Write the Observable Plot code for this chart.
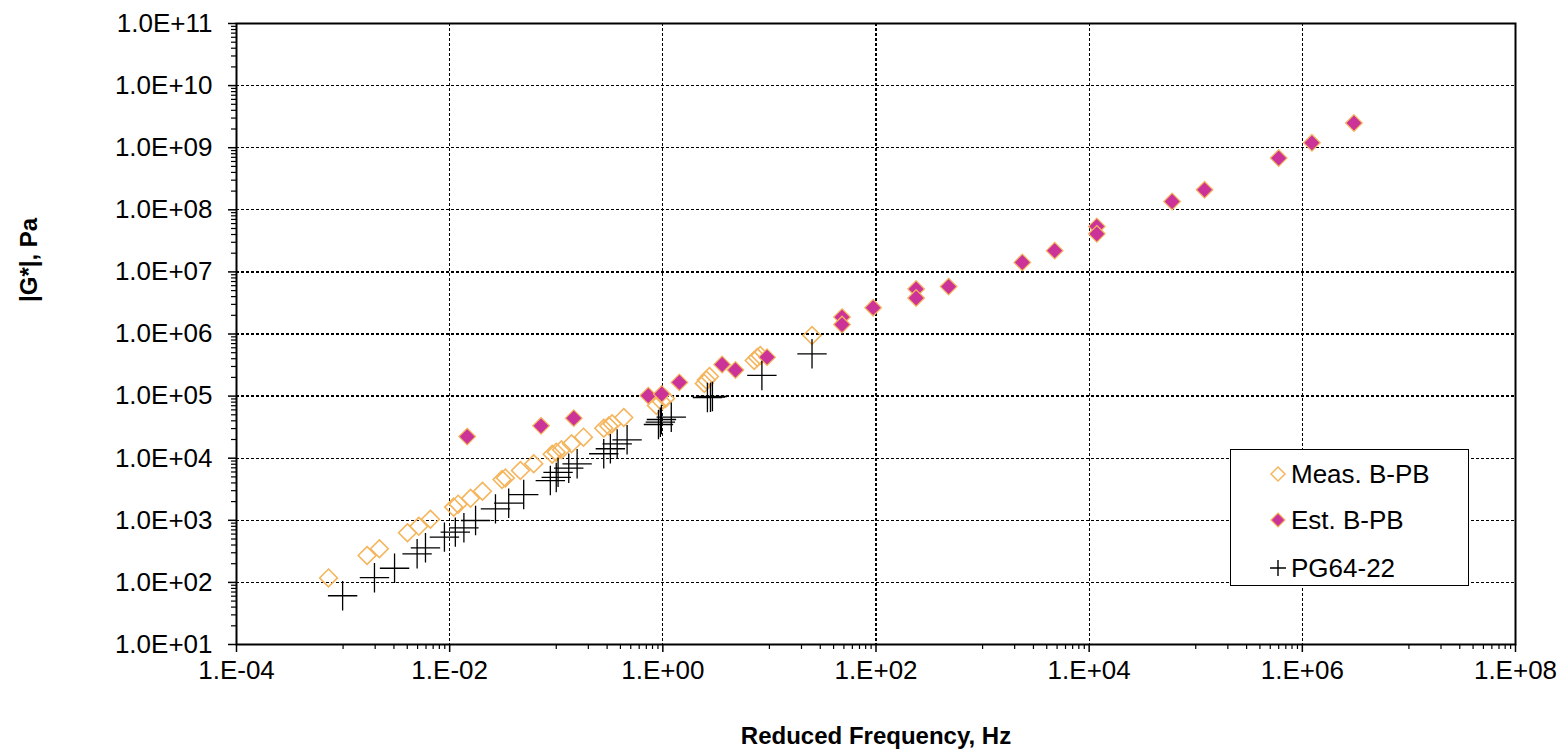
<!DOCTYPE html>
<html>
<head>
<meta charset="utf-8">
<script src="https://cdn.jsdelivr.net/npm/d3@7"></script>
<script src="https://cdn.jsdelivr.net/npm/@observablehq/plot@0.6"></script>
<style>
  html, body { margin: 0; padding: 0; background: #fff; }
  #wrap { position: relative; width: 1560px; height: 752px; font-family: "Liberation Sans", Arial, sans-serif; }
  #legend { position: absolute; left: 1230px; top: 449px; width: 237px; height: 135px; border: 1.5px solid #000; background: #fff; }
  .row { position: absolute; left: 0; height: 30px; display: flex; align-items: center; font-size: 26px; color: #000; }
  .row svg { position: absolute; left: 38px; }
  .row span { position: absolute; left: 60px; white-space: nowrap; line-height: 30px; }
</style>
</head>
<body>
<div id="wrap"><div id="chart"></div>
  <div id="legend"></div>
</div>
<script>
// ---- Data ----
const seriesNames = ["Meas. B-PB", "Est. B-PB", "PG64-22"];

const measFreq = [7.3e-4, 1.68e-3, 2.19e-3, 4.02e-3, 5.13e-3, 6.6e-3, 1.09e-2, 1.2e-2, 1.57e-2, 2.03e-2,
  3.1e-2, 3.33e-2, 4.61e-2, 6.15e-2, 9.16e-2, 0.1, 0.112, 0.139, 0.18, 0.279, 0.311, 0.334, 0.43,
  0.871, 0.97, 1.06, 2.45, 2.56, 2.74, 7.2, 7.7, 8.2, 25.1];
const measG = [118, 271, 348, 630, 800, 1040, 1630, 1820, 2260, 2930,
  4540, 4800, 6340, 8130, 11600, 12500, 13650, 17050, 21800, 30300, 33000, 35800, 45200,
  70600, 81800, 91400, 1.6e5, 1.82e5, 2.07e5, 3.74e5, 4.19e5, 4.5e5, 9.46e5];

const estFreq = [0.0146, 0.072, 0.146, 0.73, 0.977, 1.43, 3.6, 4.8, 9.5, 48, 48, 94, 238, 238, 480,
  2360, 4750, 11800, 11800, 60000, 121000, 600000, 1230000, 3050000];
const estG = [22300, 33200, 44100, 1.02e5, 1.08e5, 1.66e5, 3.23e5, 2.63e5, 4.24e5, 1.87e6, 1.42e6, 2.65e6,
  5.3e6, 3.8e6, 5.8e6, 1.42e7, 2.2e7, 5.4e7, 4.1e7, 1.36e8, 2.1e8, 6.8e8, 1.2e9, 2.5e9];

const pgFreq = [9.9e-4, 1.97e-3, 3.04e-3, 4.95e-3, 5.93e-3, 8.93e-3, 1.13e-2, 1.36e-2, 1.75e-2, 2.69e-2,
  3.58e-2, 4.95e-2, 8.8e-2, 0.1, 0.104, 0.131, 0.157, 0.279, 0.322, 0.373, 0.462,
  0.91, 0.948, 0.97, 1.2, 2.62, 2.8, 2.92, 8.5, 25.1];
const pgG = [61, 119, 169, 289, 361, 535, 644, 757, 993, 1530,
  1885, 2600, 4370, 4900, 5900, 6900, 8130, 11800, 14200, 17000, 19800,
  34900, 38000, 42000, 45700, 95000, 96000, 98600, 2.15e5, 4.8e5];

const xTicks = [1e-4, 1e-2, 1e0, 1e2, 1e4, 1e6, 1e8];
const xTickLabels = ["1.E-04", "1.E-02", "1.E+00", "1.E+02", "1.E+04", "1.E+06", "1.E+08"];
const yTicks = [1e1, 1e2, 1e3, 1e4, 1e5, 1e6, 1e7, 1e8, 1e9, 1e10, 1e11];
const yTickLabels = ["1.0E+01", "1.0E+02", "1.0E+03", "1.0E+04", "1.0E+05", "1.0E+06", "1.0E+07",
  "1.0E+08", "1.0E+09", "1.0E+10", "1.0E+11"];
const xTitle = "Reduced Frequency, Hz";
const yTitle = "|G*|, Pa";

// ---- Build tables ----
const meas = measFreq.map((f, i) => ({f, g: measG[i]}));
const est = estFreq.map((f, i) => ({f, g: estG[i]}));
const pg = pgFreq.map((f, i) => ({f, g: pgG[i]}));

const yMinor = [];
for (let e = 1; e < 11; e++) for (let k = 2; k <= 9; k++) yMinor.push(k * Math.pow(10, e));
const xMinor = [];
for (let e = -4; e < 8; e += 2) for (let k = 1; k <= 9; k++) xMinor.push(k * Math.pow(10, e + 1));

const ORANGE = "#F5B55C";
const MAGENTA = "#CC3399";
const font = "'Liberation Sans', Arial, sans-serif";
const gridStyle = {stroke: "#000", strokeOpacity: 1, strokeWidth: 1.3, strokeDasharray: "3,2", shapeRendering: "crispEdges"};

const chart = Plot.plot({
  width: 1560,
  height: 752,
  marginLeft: 236,
  marginRight: 45,
  marginTop: 23,
  marginBottom: 108,
  x: {type: "log", domain: [1e-4, 1e8], label: null},
  y: {type: "log", domain: [1e1, 1e11], label: null},
  style: {fontFamily: font, fontSize: "26px", color: "#000", background: "#fff", overflow: "visible"},
  marks: [
    Plot.gridY(yTicks.slice(1, -1), gridStyle),
    Plot.gridX(xTicks.slice(1, -1), gridStyle),
    Plot.axisY(yMinor, {tickSize: 5, tickFormat: () => "", label: null, strokeWidth: 1.2}),
    Plot.axisY(yTicks, {tickSize: 8, tickPadding: 16, label: null, strokeWidth: 1.5,
      tickFormat: (d) => yTickLabels[yTicks.indexOf(d)], fontSize: 26}),
    Plot.axisX(xMinor, {tickSize: 5, tickFormat: () => "", label: null, strokeWidth: 1.2}),
    Plot.axisX(xTicks, {tickSize: 8, tickPadding: 8, label: null, strokeWidth: 1.5,
      tickFormat: (d) => xTickLabels[xTicks.indexOf(d)], fontSize: 26}),
    Plot.frame({stroke: "#000", strokeWidth: 2}),
    Plot.dot(meas, {x: "f", y: "g", symbol: "diamond2", r: 8, stroke: ORANGE, fill: "none", strokeWidth: 1.6}),
    Plot.dot(est, {x: "f", y: "g", symbol: "diamond2", r: 7.5, stroke: ORANGE, fill: MAGENTA, strokeWidth: 1.2}),
    Plot.dot(pg, {x: "f", y: "g", symbol: "plus", r: 9.5, stroke: "#000", strokeWidth: 1.3}),
    Plot.text([xTitle], {text: (d) => d, frameAnchor: "bottom", dy: 99, fontWeight: "bold", fontSize: 24, fill: "#000"}),
    Plot.text([yTitle], {text: (d) => d, frameAnchor: "left", rotate: -90, dx: -207, dy: -32, fontWeight: "bold", fontSize: 24, fill: "#000"})
  ]
});
document.getElementById("chart").appendChild(chart);

// ---- Legend ----
const legendSymbols = [
  `<svg width="18" height="18" viewBox="-9 -9 18 18"><path d="M0,-7L7,0L0,7L-7,0Z" fill="none" stroke="${ORANGE}" stroke-width="1.5"/></svg>`,
  `<svg width="18" height="18" viewBox="-9 -9 18 18"><path d="M0,-7L7,0L0,7L-7,0Z" fill="${MAGENTA}" stroke="${ORANGE}" stroke-width="1.2"/></svg>`,
  `<svg width="18" height="18" viewBox="-9 -9 18 18"><path d="M-8,0H8M0,-8V8" stroke="#000" stroke-width="1.4"/></svg>`
];
const rowTops = [9, 55, 103];
const legend = document.getElementById("legend");
seriesNames.forEach((name, i) => {
  const row = document.createElement("div");
  row.className = "row";
  row.style.top = rowTops[i] + "px";
  row.innerHTML = legendSymbols[i] + `<span>${name}</span>`;
  legend.appendChild(row);
});
</script>
</body>
</html>
